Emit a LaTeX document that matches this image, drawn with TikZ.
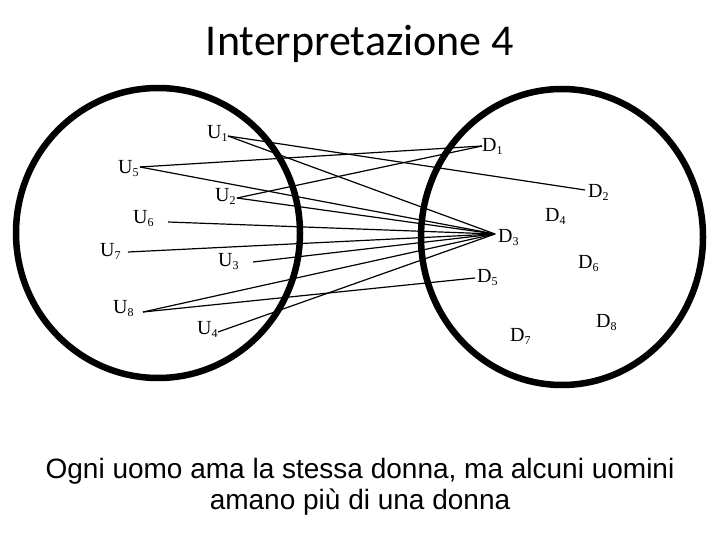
\documentclass[tikz,border=0pt]{standalone}
\usepackage{fontspec}
\setmainfont{Liberation Serif}
\newfontfamily\titlefont{Carlito}
\newfontfamily\bodyfont{Liberation Sans}
\newcommand\sbs[1]{\raisebox{-3pt}{\fontsize{12}{12}\selectfont #1}}
\begin{document}
\begin{tikzpicture}[x=1pt,y=-1pt,
  lab/.style={inner sep=0pt, anchor=base west, font=\fontsize{20}{20}\selectfont},
  ring/.style={draw=black, line width=6.5pt},
  link/.style={draw=black, line width=1.2pt},
  capline/.style={inner sep=0pt, anchor=base, font=\bodyfont\fontsize{28}{28}\selectfont}]
\useasboundingbox[fill=white] (0,0) rectangle (720,540);
% title
\node[inner sep=0pt, anchor=base, font=\titlefont\fontsize{44}{44}\selectfont] (title) at (360,56) {Interpretazione 4};
% circles
\draw[ring] (158,233) ellipse [x radius=142, y radius=145];
\draw[ring] (562,237) ellipse [x radius=141, y radius=148];
% men
\node[lab] (U1) at (207,139) {U\sbs{1}};
\node[lab] (U5) at (118,174) {U\sbs{5}};
\node[lab] (U2) at (215,202) {U\sbs{2}};
\node[lab] (U6) at (133,223) {U\sbs{6}};
\node[lab] (U7) at (100,256) {U\sbs{7}};
\node[lab] (U3) at (218,266) {U\sbs{3}};
\node[lab] (U8) at (113,313) {U\sbs{8}};
\node[lab] (U4) at (197,334) {U\sbs{4}};
% women
\node[lab] (D1) at (482,152) {D\sbs{1}};
\node[lab] (D2) at (588,198) {D\sbs{2}};
\node[lab] (D4) at (545,222) {D\sbs{4}};
\node[lab] (D3) at (498,242) {D\sbs{3}};
\node[lab] (D6) at (578,268) {D\sbs{6}};
\node[lab] (D5) at (477,282) {D\sbs{5}};
\node[lab] (D8) at (596,327) {D\sbs{8}};
\node[lab] (D7) at (510,341) {D\sbs{7}};
% connection points
\coordinate (pU1) at (228,136);
\coordinate (pU5) at (140,167);
\coordinate (pU2) at (237,198);
\coordinate (pU6) at (168,222);
\coordinate (pU7) at (128,252);
\coordinate (pU3) at (253,262);
\coordinate (pU8) at (143,312);
\coordinate (pU4) at (218,332);
\coordinate (pD1) at (482,146);
\coordinate (pD2) at (585,190);
\coordinate (pD3) at (495,234);
\coordinate (pD5) at (475,278);
% connectors
\draw[link] (pU1) -- (pD2);
\draw[link] (pU1) -- (pD3);
\draw[link] (pU5) -- (pD1);
\draw[link] (pU5) -- (pD3);
\draw[link] (pU2) -- (pD1);
\draw[link] (pU2) -- (pD3);
\draw[link] (pU6) -- (pD3);
\draw[link] (pU7) -- (pD3);
\draw[link] (pU3) -- (pD3);
\draw[link] (pU8) -- (pD3);
\draw[link] (pU8) -- (pD5);
\draw[link] (pU4) -- (pD3);
% caption
\node[capline] (cap1) at (360,478) {Ogni uomo ama la stessa donna, ma alcuni uomini};
\node[capline] (cap2) at (360,509) {amano più di una donna};
\end{tikzpicture}
\end{document}
